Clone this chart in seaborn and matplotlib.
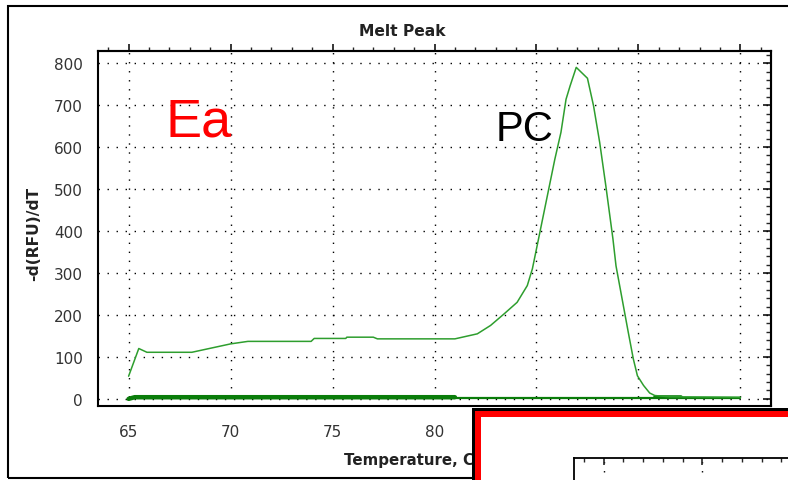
import matplotlib
matplotlib.use("Agg")
import matplotlib.pyplot as plt
import seaborn as sns
import pandas as pd
from matplotlib.patches import Rectangle
from matplotlib.ticker import MultipleLocator

# ---- data ----
pc_temp = [65.0, 65.5, 65.9, 68.1, 70.0, 70.85, 73.95, 74.1, 75.65, 75.7, 77.0, 77.2,
           81.0, 82.1, 82.75, 83.4, 84.05, 84.55, 84.8, 85.1, 85.5, 85.9, 86.2, 86.45,
           86.65, 86.95, 87.5, 87.8, 88.1, 88.4, 88.75, 88.9, 89.2, 89.5, 89.75, 89.95,
           90.25, 90.55, 90.8, 91.5, 95.0]
pc_val = [54, 120, 111, 111, 131, 137, 137, 144, 144, 147, 147, 143,
          143, 155, 175, 202, 230, 270, 310, 381, 476, 571, 635, 714,
          746, 790, 764, 698, 611, 508, 381, 317, 238, 159, 95, 55,
          32, 14, 8, 5, 4]

neg_thick_temp = [65.0, 65.3, 81.0]
neg_thick_val = [0, 4, 4]
neg_thin_temp = [65.0, 95.0]
neg_thin_val = [3, 3]
neg_bump_temp = [90.8, 92.1]
neg_bump_val = [4, 4]

x_ticks = [65, 70, 75, 80, 85, 90, 95]
x_tick_labels = ["65", "70", "75", "80", "85", "90", ""]
y_ticks = [0, 100, 200, 300, 400, 500, 600, 700, 800]

title = "Melt Peak"
x_label = "Temperature, Celsius"
y_label = "-d(RFU)/dT"

# ---- figure ----
sns.set_style("white")
plt.rcParams["font.family"] = ["DejaVu Sans"]

W, H = 788, 481
fig = plt.figure(figsize=(W / 100, H / 100), dpi=100)

def fx(px):
    return px / W

def fy(py):
    return 1 - py / H

L, R, T, B = 98, 771, 52, 407
ax = fig.add_axes([fx(L), fy(B), fx(R) - fx(L), fy(T) - fy(B)])

pc_df = pd.DataFrame({"t": pc_temp, "v": pc_val})
sns.lineplot(data=pd.DataFrame({"t": neg_thin_temp, "v": neg_thin_val}), x="t", y="v",
             ax=ax, color="#0a7d0a", lw=1.6, estimator=None, sort=False, zorder=3)
sns.lineplot(data=pd.DataFrame({"t": neg_thick_temp, "v": neg_thick_val}), x="t", y="v",
             ax=ax, color="#0a7d0a", lw=3.2, estimator=None, sort=False, zorder=3)
sns.lineplot(data=pd.DataFrame({"t": neg_bump_temp, "v": neg_bump_val}), x="t", y="v",
             ax=ax, color="#0a7d0a", lw=2.6, estimator=None, sort=False, zorder=3)
sns.lineplot(data=pc_df, x="t", y="v", ax=ax, color="#2e9e2e", lw=1.1,
             estimator=None, sort=False, zorder=4)

ax.set_xlim(63.5, 96.5)
ax.set_ylim(-17, 829)
ax.set_xticks(x_ticks)
ax.set_xticklabels(x_tick_labels)
ax.set_yticks(y_ticks)
ax.xaxis.set_minor_locator(MultipleLocator(1))
ax.yaxis.set_minor_locator(MultipleLocator(20))
ax.grid(True, which="major", color="black", linestyle=(0, (1, 5.5)), lw=1.0)
for s in ax.spines.values():
    s.set_color("black")
    s.set_linewidth(1.5)

ax.tick_params(axis="both", which="major", direction="out", length=6, width=1.3,
               labelsize=11, labelcolor="#333333", color="black")
ax.tick_params(axis="both", which="minor", direction="inout", length=6, width=1.0,
               color="black")
ax.tick_params(axis="x", which="major", pad=7)
ax.tick_params(axis="y", which="major", pad=5)

sec_x = ax.secondary_xaxis("top")
sec_x.set_xticks(x_ticks)
sec_x.set_xticklabels([])
sec_x.xaxis.set_minor_locator(MultipleLocator(1))
sec_x.tick_params(which="major", direction="out", length=5, width=1.3)
sec_x.tick_params(which="minor", direction="out", length=3, width=1.0)
sec_x.spines["top"].set_linewidth(1.5)

sec_y = ax.secondary_yaxis("right")
sec_y.set_yticks(y_ticks)
sec_y.set_yticklabels([])
sec_y.yaxis.set_minor_locator(MultipleLocator(20))
sec_y.tick_params(which="major", direction="in", length=6, width=1.3)
sec_y.tick_params(which="minor", direction="in", length=3.5, width=1.0)
sec_y.spines["right"].set_linewidth(1.5)

ax.set_xlabel("")
ax.set_ylabel("")
fig.text(fx(434), fy(460), x_label, ha="center", va="center", fontsize=10.8,
         fontweight="bold", color="#222222", zorder=1)
fig.text(fx(34), fy(234), y_label, ha="center", va="center", rotation=90,
         fontsize=11.2, fontweight="bold", color="#222222")
fig.text(fx(402), fy(31), title, ha="center", va="center", fontsize=11.2,
         fontweight="bold", color="#222222")

ax.text(fx(166), fy(137), "Ea", transform=fig.transFigure, ha="left",
        va="baseline", fontsize=39, color="#ff0000", family="Liberation Sans")
ax.text(fx(496), fy(141), "PC", transform=fig.transFigure, ha="left",
        va="baseline", fontsize=30, color="black", family="Liberation Sans")

# outer frame
fig.patches.append(Rectangle((fx(8), fy(479)), 1.2, fy(7) - fy(479),
                             transform=fig.transFigure, fill=False,
                             edgecolor="black", lw=1.5, zorder=0))

# overlapping red box with next panel
fig.patches.append(Rectangle((fx(472), fy(560)), 1, fy(409) - fy(560),
                             transform=fig.transFigure, facecolor="black",
                             edgecolor="none", zorder=10))
fig.patches.append(Rectangle((fx(475), fy(560)), 1, fy(412) - fy(560),
                             transform=fig.transFigure, facecolor="#ff0000",
                             edgecolor="none", zorder=11))
fig.patches.append(Rectangle((fx(481), fy(560)), 1, fy(418) - fy(560),
                             transform=fig.transFigure, facecolor="white",
                             edgecolor="none", zorder=12))

ax2 = fig.add_axes([fx(574), fy(700), fx(900) - fx(574), fy(459) - fy(700)], zorder=20)
ax2.set_facecolor("none")
ax2.set_xlim(63.5, 80)
ax2.set_ylim(0, 10)
ax2.set_xticks([65, 70, 75])
ax2.set_xticklabels([])
ax2.set_yticks([])
ax2.xaxis.set_minor_locator(MultipleLocator(1))
ax2.xaxis.tick_top()
ax2.tick_params(axis="x", which="major", direction="in", length=5, width=1.2)
ax2.tick_params(axis="x", which="minor", direction="in", length=3, width=1.0)
ax2.grid(True, axis="x", color="black", linestyle=(0, (1, 5.5)), lw=1.0)
for k in ("bottom", "right"):
    ax2.spines[k].set_visible(False)
for k in ("top", "left"):
    ax2.spines[k].set_linewidth(1.3)
    ax2.spines[k].set_color("black")

fig.savefig("out.png", dpi=100)
